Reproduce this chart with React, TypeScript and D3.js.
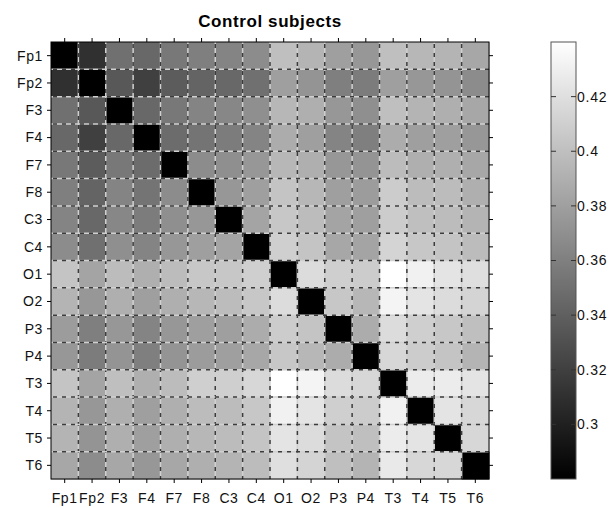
import React from "react";
import * as d3 from "d3";

// electrode labels (rows and columns)
const channels = ["Fp1", "Fp2", "F3", "F4", "F7", "F8", "C3", "C4", "O1", "O2", "P3", "P4", "T3", "T4", "T5", "T6"];

// one row of the matrix per channel, diagonal is 0
const rowFp1 = [0, 0.31, 0.35, 0.345, 0.355, 0.36, 0.363, 0.368, 0.4, 0.393, 0.38, 0.375, 0.4, 0.395, 0.393, 0.385];
const rowFp2 = [0.31, 0, 0.335, 0.32, 0.338, 0.343, 0.345, 0.35, 0.38, 0.373, 0.36, 0.358, 0.38, 0.375, 0.373, 0.368];
const rowF3 = [0.35, 0.335, 0, 0.345, 0.355, 0.363, 0.365, 0.37, 0.395, 0.39, 0.375, 0.37, 0.4, 0.393, 0.39, 0.385];
const rowF4 = [0.345, 0.32, 0.345, 0, 0.348, 0.353, 0.358, 0.363, 0.388, 0.38, 0.363, 0.36, 0.388, 0.38, 0.38, 0.375];
const rowF7 = [0.355, 0.338, 0.355, 0.348, 0, 0.368, 0.37, 0.375, 0.395, 0.39, 0.375, 0.373, 0.398, 0.39, 0.39, 0.385];
const rowF8 = [0.36, 0.343, 0.363, 0.353, 0.368, 0, 0.375, 0.38, 0.403, 0.395, 0.38, 0.378, 0.408, 0.398, 0.398, 0.39];
const rowC3 = [0.363, 0.345, 0.365, 0.358, 0.37, 0.375, 0, 0.383, 0.405, 0.398, 0.383, 0.38, 0.408, 0.4, 0.398, 0.393];
const rowC4 = [0.368, 0.35, 0.37, 0.363, 0.375, 0.38, 0.383, 0, 0.41, 0.403, 0.385, 0.383, 0.413, 0.405, 0.403, 0.398];
const rowO1 = [0.403, 0.383, 0.398, 0.39, 0.398, 0.405, 0.405, 0.41, 0, 0.418, 0.41, 0.408, 0.44, 0.431, 0.423, 0.42];
const rowO2 = [0.393, 0.375, 0.39, 0.38, 0.39, 0.395, 0.398, 0.405, 0.418, 0, 0.405, 0.395, 0.433, 0.423, 0.418, 0.413];
const rowP3 = [0.378, 0.36, 0.375, 0.363, 0.375, 0.38, 0.38, 0.388, 0.408, 0.403, 0, 0.388, 0.418, 0.41, 0.405, 0.4];
const rowP4 = [0.375, 0.358, 0.373, 0.36, 0.373, 0.378, 0.38, 0.385, 0.405, 0.395, 0.388, 0, 0.415, 0.408, 0.403, 0.393];
const rowT3 = [0.403, 0.383, 0.4, 0.39, 0.398, 0.41, 0.41, 0.415, 0.44, 0.433, 0.418, 0.415, 0, 0.428, 0.428, 0.423];
const rowT4 = [0.393, 0.375, 0.39, 0.38, 0.39, 0.398, 0.398, 0.405, 0.431, 0.423, 0.41, 0.408, 0.431, 0, 0.423, 0.415];
const rowT5 = [0.393, 0.373, 0.39, 0.38, 0.39, 0.395, 0.398, 0.403, 0.423, 0.418, 0.403, 0.4, 0.428, 0.423, 0, 0.415];
const rowT6 = [0.385, 0.368, 0.385, 0.375, 0.385, 0.39, 0.393, 0.398, 0.42, 0.413, 0.4, 0.393, 0.426, 0.415, 0.415, 0];

const matrix = [rowFp1, rowFp2, rowF3, rowF4, rowF7, rowF8, rowC3, rowC4, rowO1, rowO2, rowP3, rowP4, rowT3, rowT4, rowT5, rowT6];

const colorDomain = [0.28, 0.44];
const colorbarTicks = [0.3, 0.32, 0.34, 0.36, 0.38, 0.4, 0.42];

const W = 611;
const H = 508;
const plot = { left: 51, right: 489, top: 42, bottom: 479 };
const bar = { left: 551, right: 576 };
const font = "'Liberation Sans', Arial, sans-serif";

export default function App() {
  const x = d3.scaleBand().domain(channels).range([plot.left, plot.right]);
  const y = d3.scaleBand().domain(channels).range([plot.top, plot.bottom]);
  const color = d3.scaleLinear<string>().domain(colorDomain).range(["#000000", "#ffffff"]).clamp(true);
  const cy = d3.scaleLinear().domain(colorDomain).range([plot.bottom, plot.top]);

  const cells: { r: string; c: string; v: number }[] = [];
  matrix.forEach((row, i) => row.forEach((v, j) => cells.push({ r: channels[i], c: channels[j], v })));

  // inner cell boundaries for the grid
  const bounds = channels.slice(1).map((ch) => x(ch) as number);
  const boundsY = channels.slice(1).map((ch) => y(ch) as number);
  const bw = x.bandwidth();
  const bh = y.bandwidth();

  return (
    <svg width={W} height={H} style={{ position: "absolute", left: 0, top: 0, background: "#fff" }} fontFamily={font}>
      <defs>
        <linearGradient id="grayMap" x1="0" y1="1" x2="0" y2="0">
          <stop offset="0" stopColor="#000" />
          <stop offset="1" stopColor="#fff" />
        </linearGradient>
      </defs>

      <text x={(plot.left + plot.right) / 2} y={27} textAnchor="middle" fontSize={17} fontWeight="bold" letterSpacing={0.6}>
        Control subjects
      </text>

      {cells.map((d, i) => (
        <rect key={i} x={x(d.c)} y={y(d.r)} width={bw + 0.5} height={bh + 0.5} fill={color(d.v)} />
      ))}

      {/* grid: light solid under dark dashes */}
      <g>
        {bounds.map((bx, i) => (
          <g key={"v" + i}>
            <line x1={bx} x2={bx} y1={plot.top} y2={plot.bottom} stroke="#d0d0d0" strokeWidth={1.5} />
            <line x1={bx} x2={bx} y1={plot.top} y2={plot.bottom} stroke="#3c3c3c" strokeWidth={1.5} strokeDasharray="4,5" strokeDashoffset={-2} />
          </g>
        ))}
        {boundsY.map((by, i) => (
          <g key={"h" + i}>
            <line x1={plot.left} x2={plot.right} y1={by} y2={by} stroke="#d0d0d0" strokeWidth={1.5} />
            <line x1={plot.left} x2={plot.right} y1={by} y2={by} stroke="#3c3c3c" strokeWidth={1.5} strokeDasharray="4,5" strokeDashoffset={-2} />
          </g>
        ))}
      </g>

      <rect x={plot.left} y={plot.top} width={plot.right - plot.left} height={plot.bottom - plot.top} fill="none" stroke="#000" strokeWidth={1} />

      {/* ticks on all four sides, outward */}
      {channels.map((ch) => {
        const tx = (x(ch) as number) + bw / 2;
        const ty = (y(ch) as number) + bh / 2;
        return (
          <g key={"t" + ch} stroke="#000" strokeWidth={1}>
            <line x1={tx} x2={tx} y1={plot.top} y2={plot.top - 4} />
            <line x1={tx} x2={tx} y1={plot.bottom} y2={plot.bottom + 4} />
            <line x1={plot.left} x2={plot.left - 4} y1={ty} y2={ty} />
            <line x1={plot.right} x2={plot.right + 4} y1={ty} y2={ty} />
          </g>
        );
      })}

      {channels.map((ch) => (
        <text key={"xl" + ch} x={(x(ch) as number) + bw / 2} y={503} textAnchor="middle" fontSize={14} letterSpacing={0.6} fill="#111">
          {ch}
        </text>
      ))}
      {channels.map((ch) => (
        <text key={"yl" + ch} x={43} y={(y(ch) as number) + bh / 2} dy="0.35em" textAnchor="end" fontSize={14} letterSpacing={0.6} fill="#111">
          {ch}
        </text>
      ))}

      {/* colorbar */}
      <rect x={bar.left} y={plot.top} width={bar.right - bar.left} height={plot.bottom - plot.top} fill="url(#grayMap)" stroke="#555" strokeWidth={1} />
      {colorbarTicks.map((t) => (
        <g key={"cb" + t}>
          <line x1={bar.left} x2={bar.left + 5} y1={cy(t)} y2={cy(t)} stroke="#333" />
          <line x1={bar.right - 5} x2={bar.right} y1={cy(t)} y2={cy(t)} stroke="#333" />
          <text x={bar.right + 1} y={cy(t)} dy="0.35em" fontSize={14} letterSpacing={0.8} fill="#111">
            {String(t)}
          </text>
        </g>
      ))}
    </svg>
  );
}
